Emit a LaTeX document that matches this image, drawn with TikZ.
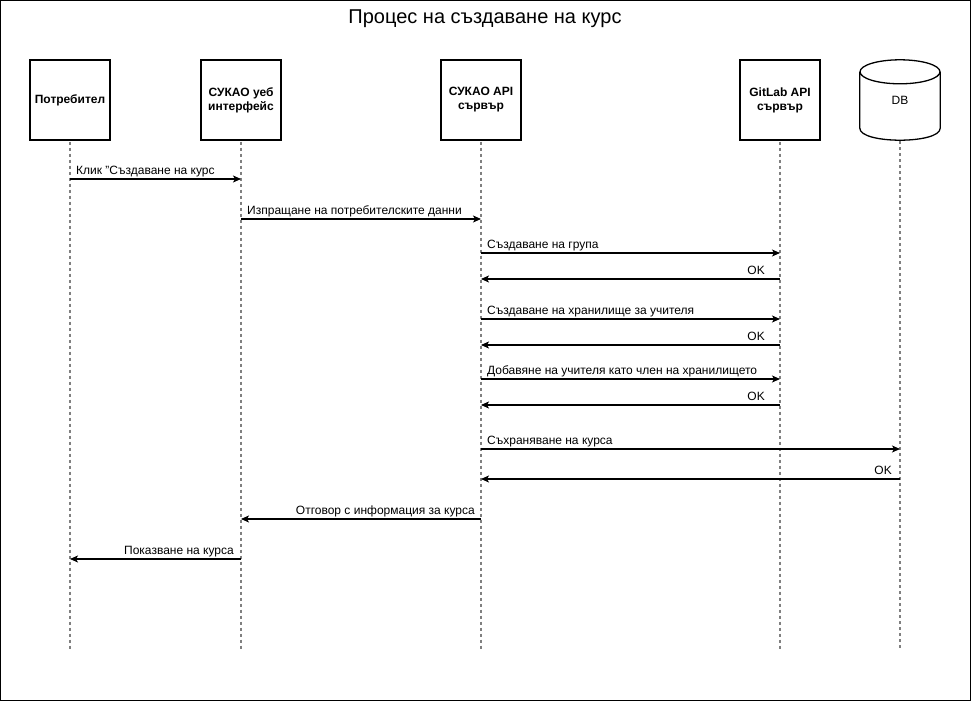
\documentclass[tikz,border=0pt]{standalone}
\usepackage{fontspec}
\setmainfont{Liberation Sans}
\usepackage{tikz}
\usetikzlibrary{arrows.meta, positioning}

\tikzset{
    actor/.style={draw, fill=white, line width=1.2pt, minimum width=80pt, minimum height=80pt,
        align=center, inner sep=2pt, font=\fontsize{12}{14}\selectfont\bfseries},
    database/.style={minimum width=80pt, minimum height=80pt, inner sep=0pt,
        font=\fontsize{12}{14}\selectfont},
    dbline/.style={line width=1.3pt},
    lifeline/.style={draw=gray, line width=1.2pt, dash pattern=on 3pt off 3pt},
    msg/.style={-{Stealth[length=8pt, width=7pt, inset=2pt]}, line width=1.1pt},
    msglabel/.style={inner sep=0pt, font=\fontsize{12}{14}\selectfont}
}

\begin{document}
\begin{tikzpicture}[x=1pt, y=-1pt]
                % 1. Рамка и заглавие
                \useasboundingbox (0,0) rectangle (971,701);
                \draw[line width=1.3pt] (0.65,0.65) rectangle (970.35,700.35);
                \node[font=\fontsize{20}{24}\selectfont] (title) at (485,19) {Процес на създаване на курс};
                
                % 2. Участници
                \node[actor] (user) at (70,100) {Потребител};
                \node[actor] (web) at (241,100) {СУКАО уеб\\интерфейс};
                \node[actor] (api) at (481,100) {СУКАО API\\сървър};
                \node[actor] (git) at (780,100) {GitLab API\\сървър};
                \node[database] (db) at (900,100) {DB};
                
                % 3. Цилиндър за DB
                \draw[dbline] ([yshift=-12pt]db.north west)
                    -- ([yshift=12pt]db.south west)
                    .. controls ([yshift=-4pt]db.south west) and ([yshift=-4pt]db.south east)
                    .. ([yshift=12pt]db.south east)
                    -- ([yshift=-12pt]db.north east);
                \draw[dbline] ([yshift=-12pt]db.north) ellipse [x radius=40pt, y radius=12pt];
                
                % 4. Линии на живот
                \foreach \n in {user,web,api,git,db} {
                    \draw[lifeline] ([yshift=-1pt]\n.south) -- (\n.south |- 0,650);
                }
                
                % 5. Заявки (отляво надясно)
                \foreach \a/\b/\y/\txt [count=\i] in {
                    user/web/179/{Клик "Създаване на курс},
                    web/api/219/{Изпращане на потребителските данни},
                    api/git/253/{Създаване на група},
                    api/git/319/{Създаване на хранилище за учителя},
                    api/git/379/{Добавяне на учителя като член на хранилището},
                    api/db/449/{Съхраняване на курса}} {
                    \draw[msg] (\a |- 0,\y) -- (\b |- 0,\y);
                    \node[msglabel, anchor=base west] (req\i) at ([xshift=6pt, yshift=5pt]\a |- 0,\y) {\txt};
                }
                
                % 6. Отговори (отдясно наляво)
                \foreach \a/\b/\y/\dx/\txt [count=\i] in {
                    git/api/279/15/OK,
                    git/api/345/15/OK,
                    git/api/405/15/OK,
                    db/api/479/8/OK,
                    api/web/519/6/{Отговор с информация за курса},
                    web/user/559/7/{Показване на курса}} {
                    \draw[msg] (\a |- 0,\y) -- (\b |- 0,\y);
                    \node[msglabel, anchor=base east] (res\i) at ([xshift=-\dx pt, yshift=5pt]\a |- 0,\y) {\txt};
                }
            \end{tikzpicture}
\end{document}
